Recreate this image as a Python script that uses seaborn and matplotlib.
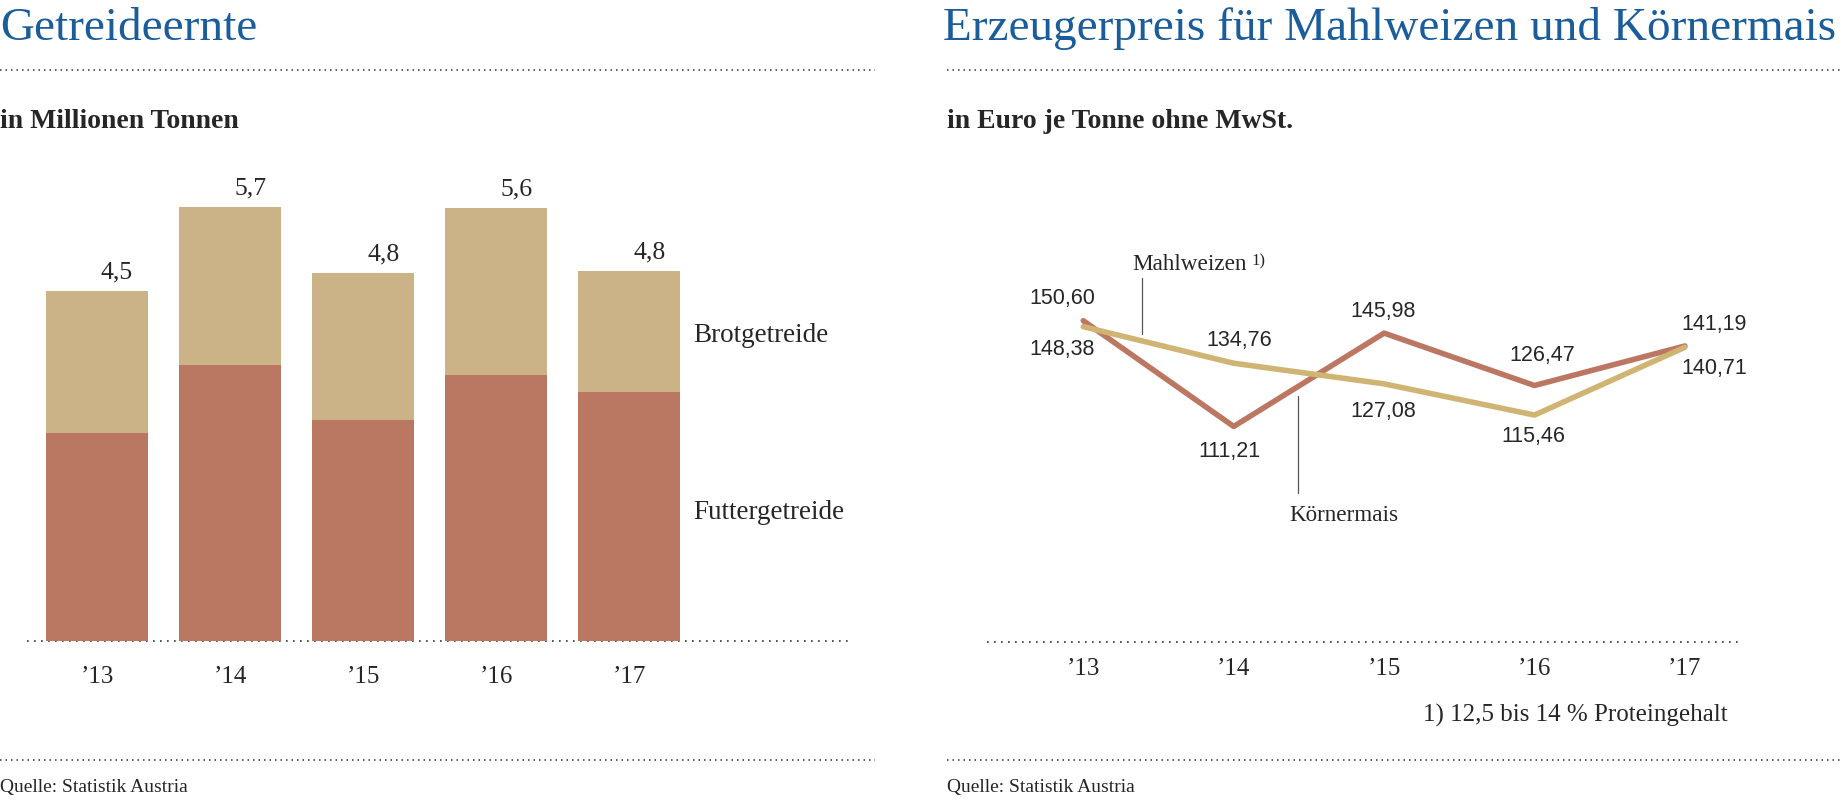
import numpy as np
import pandas as pd
import matplotlib
matplotlib.use("Agg")
import matplotlib.pyplot as plt
import seaborn as sns
from matplotlib.lines import Line2D

# ---------------- data ----------------
years = ["’13", "’14", "’15", "’16", "’17"]
futtergetreide = [2.70, 3.59, 2.87, 3.46, 3.23]
brotgetreide = [1.85, 2.05, 1.91, 2.17, 1.57]
total_labels = ["4,5", "5,7", "4,8", "5,6", "4,8"]

mahlweizen = [148.38, 134.76, 127.08, 115.46, 140.71]
koernermais = [150.60, 111.21, 145.98, 126.47, 141.19]

# ---------------- style ----------------
sns.set_theme(style="white")
SERIF = ["Liberation Serif", "DejaVu Serif"]
SANS = ["Liberation Sans", "DejaVu Sans"]
plt.rcParams["font.family"] = SERIF

BLUE = "#1b5c9a"
RED = "#ba7762"
TAN = "#cbb287"
RED_L = "#bc7763"
TAN_L = "#cfb474"
DOT = "#333333"

W, H = 1842, 804
fig = plt.figure(figsize=(W / 100, H / 100), dpi=100)


def fx(px):
    return px / W


def fy(py):
    return 1 - py / H


def hline(x0, x1, y, lw=1.1, pattern=(0, (1, 2.6))):
    fig.add_artist(Line2D([fx(x0), fx(x1)], [fy(y), fy(y)], transform=fig.transFigure,
                          color=DOT, lw=lw, linestyle=pattern, solid_capstyle="butt",
                          dash_capstyle="butt"))


# ---------------- headers / footers ----------------
fig.text(fx(0), fy(40), "Getreideernte", fontsize=34, color=BLUE, ha="left", va="baseline")
fig.text(fx(943), fy(40), "Erzeugerpreis für Mahlweizen und Körnermais", fontsize=34,
         color=BLUE, ha="left", va="baseline")
hline(0, 875, 70.5)
hline(947, 1842, 70.5)
fig.text(fx(0), fy(128), "in Millionen Tonnen", fontsize=20, fontweight="bold",
         ha="left", va="baseline")
fig.text(fx(947), fy(128), "in Euro je Tonne ohne MwSt.", fontsize=20, fontweight="bold",
         ha="left", va="baseline")
hline(0, 875, 761)
hline(947, 1842, 761)
fig.text(fx(0), fy(792), "Quelle: Statistik Austria", fontsize=14, ha="left", va="baseline")
fig.text(fx(947), fy(792), "Quelle: Statistik Austria", fontsize=14, ha="left", va="baseline")

# ---------------- left: stacked bars ----------------
ax1 = fig.add_axes([fx(27), fy(642), fx(849) - fx(27), fy(150) - fy(642)])
df = pd.DataFrame({"Jahr": years, "Futtergetreide": futtergetreide,
                   "Brotgetreide": brotgetreide})
df["Gesamt"] = df["Futtergetreide"] + df["Brotgetreide"]

sns.barplot(data=df, x="Jahr", y="Gesamt", color=TAN, saturation=1, width=0.767,
            errorbar=None, ax=ax1, zorder=2, linewidth=0)
sns.barplot(data=df, x="Jahr", y="Futtergetreide", color=RED, saturation=1, width=0.767,
            errorbar=None, ax=ax1, zorder=3, linewidth=0)
ax1.set_xlim(-0.526, 5.650)
ax1.set_ylim(0, 6.39)
ax1.axhline(0, color=DOT, lw=1.2, linestyle=(0, (1, 3.2)), zorder=1, clip_on=False)
for s in ax1.spines.values():
    s.set_visible(False)
ax1.set_yticks([])
ax1.set_xlabel("")
ax1.set_ylabel("")
ax1.tick_params(axis="x", length=0, pad=17, labelsize=18)
ax1.patch.set_alpha(0)

for i, (tot, lbl) in enumerate(zip(df["Gesamt"], total_labels)):
    ax1.annotate(lbl, (i, tot), xytext=(20, 13.5), textcoords="offset pixels",
                 ha="center", va="baseline", fontsize=18.5)

last = len(years) - 1
ax1.text(4.478, df["Futtergetreide"].iloc[last] + df["Brotgetreide"].iloc[last] / 2,
         "Brotgetreide", fontsize=19.5, ha="left", va="center_baseline")
ax1.text(4.478, df["Futtergetreide"].iloc[last] / 2 + 0.1,
         "Futtergetreide", fontsize=19.5, ha="left", va="center_baseline")

# ---------------- right: lines ----------------
ax2 = fig.add_axes([fx(987), fy(642.6), fx(1738) - fx(987), fy(150) - fy(642.6)])
dfl = pd.DataFrame({"Jahr": years * 2,
                    "Preis": koernermais + mahlweizen,
                    "Sorte": ["Körnermais"] * len(years) + ["Mahlweizen"] * len(years)})
sns.lineplot(data=dfl, x="Jahr", y="Preis", hue="Sorte",
             palette={"Körnermais": RED_L, "Mahlweizen": TAN_L},
             hue_order=["Körnermais", "Mahlweizen"], lw=4, legend=False,
             sort=False, ax=ax2, solid_capstyle="round", solid_joinstyle="round")
ax2.set_xlim(-0.640, 4.353)
ax2.set_ylim(31.08, 214.55)
ax2.axhline(31.08, color=DOT, lw=1.2, linestyle=(0, (1, 3.2)), zorder=1, clip_on=False)
for s in ax2.spines.values():
    s.set_visible(False)
ax2.set_yticks([])
ax2.set_xticks(range(len(years)))
ax2.set_xticklabels(years)
ax2.set_xlabel("")
ax2.set_ylabel("")
ax2.tick_params(axis="x", length=0, pad=11, labelsize=18)
ax2.patch.set_alpha(0)


def fmt(v):
    return f"{v:.2f}".replace(".", ",")


# label offsets in pixels (layout only; +y is up)
k_off = [(-21, 23), (-4, -24), (-1, 23), (8, 31), (29, 22)]
m_off = [(-21, -22), (6, 24), (-1, -27), (-1, -20), (29, -20)]
for i, (v, o) in enumerate(zip(koernermais, k_off)):
    ax2.annotate(fmt(v), (i, v), xytext=o, textcoords="offset pixels", ha="center",
                 va="center", fontsize=15.5, family=SANS)
for i, (v, o) in enumerate(zip(mahlweizen, m_off)):
    ax2.annotate(fmt(v), (i, v), xytext=o, textcoords="offset pixels", ha="center",
                 va="center", fontsize=15.5, family=SANS)

# series labels with leader lines
ax2.plot([0.388, 0.388], [145.65, 166.4], color="#555555", lw=0.9)
ax2.text(0.3285, 169.9, "Mahlweizen", fontsize=16.7, ha="left", va="baseline")
ax2.text(1.12, 171.6, "1)", fontsize=12, ha="left", va="baseline")
ax2.plot([1.4255, 1.4255], [86.4, 122.7], color="#555555", lw=0.9)
ax2.text(1.369, 76.4, "Körnermais", fontsize=16.7, ha="left", va="baseline")

fig.text(fx(1728), fy(722), "1) 12,5 bis 14 % Proteingehalt", fontsize=18,
         ha="right", va="baseline")

fig.savefig("out.png", dpi=100)
